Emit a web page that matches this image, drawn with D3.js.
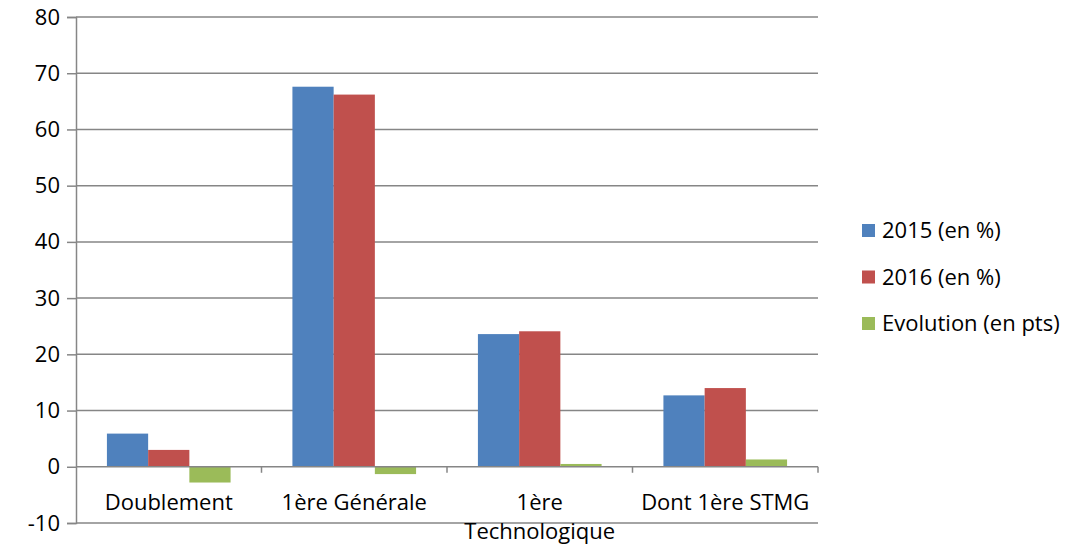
<!DOCTYPE html>
<html>
<head>
<meta charset="utf-8">
<script src="https://cdn.jsdelivr.net/npm/d3@7"></script>
<style>
  body { margin: 0; background: #fff; }
  text { font-family: "Open Sans", "Liberation Sans", sans-serif; fill: #000; }
</style>
</head>
<body>
<svg id="chart" width="1080" height="551"></svg>
<script>
const categories = ["Doublement", "1ère Générale", "1ère Technologique", "Dont 1ère STMG"];
const series = ["2015 (en %)", "2016 (en %)", "Evolution (en pts)"];
const v2015 = [5.9, 67.6, 23.6, 12.7];
const v2016 = [3.0, 66.2, 24.1, 14.0];
const evolution = [-2.8, -1.3, 0.5, 1.3];
const yTicks = [-10, 0, 10, 20, 30, 40, 50, 60, 70, 80];
const colors = ["#4F81BD", "#C0504D", "#9BBB59"];

const values = [v2015, v2016, evolution];
const data = categories.map((c, i) => ({ cat: c, vals: values.map(s => s[i]) }));

const margin = { top: 17, right: 262, bottom: 28, left: 76 };
const width = 1080, height = 551;
const fontSize = 22;
const svg = d3.select("#chart");

const x = d3.scaleBand()
  .domain(categories)
  .range([margin.left, width - margin.right]);

// excel style: 150% gap width -> 0.75 bar on each side
const xs = d3.scaleBand()
  .domain(series)
  .range([0, x.bandwidth()])
  .paddingOuter(0.75);

const y = d3.scaleLinear()
  .domain([-10, 80])
  .range([height - margin.bottom, margin.top]);

// y axis
svg.append("g")
  .attr("transform", `translate(${margin.left},0)`)
  .call(d3.axisLeft(y).tickValues(yTicks).tickSize(9).tickPadding(7).tickFormat(d => String(d)))
  .call(g => g.select(".domain").attr("stroke", "#868686").attr("stroke-width", 1.5))
  .call(g => g.selectAll(".tick line").attr("stroke", "#868686").attr("stroke-width", 1.5))
  .call(g => g.selectAll(".tick text").attr("font-size", fontSize).attr("font-family", null));

// gridlines
svg.append("g")
  .selectAll("line")
  .data(yTicks.filter(d => d !== 0))
  .join("line")
  .attr("x1", margin.left)
  .attr("x2", width - margin.right)
  .attr("y1", d => y(d))
  .attr("y2", d => y(d))
  .attr("stroke", "#868686")
  .attr("stroke-width", 1.5);

// bars
svg.append("g")
  .selectAll("g")
  .data(data)
  .join("g")
  .attr("transform", d => `translate(${x(d.cat)},0)`)
  .selectAll("rect")
  .data(d => d.vals.map((v, i) => ({ key: series[i], v, i })))
  .join("rect")
  .attr("x", d => xs(d.key))
  .attr("width", xs.bandwidth())
  .attr("y", d => y(Math.max(0, d.v)))
  .attr("height", d => Math.abs(y(d.v) - y(0)))
  .attr("fill", d => colors[d.i]);

// category axis at zero
const xAxis = svg.append("g").attr("transform", `translate(0,${y(0)})`);
xAxis.append("line")
  .attr("x1", margin.left)
  .attr("x2", width - margin.right)
  .attr("stroke", "#868686")
  .attr("stroke-width", 1.5);
xAxis.selectAll(".ctick")
  .data(categories.slice(1).map(c => x(c)).concat([x.range()[1]]))
  .join("line")
  .attr("x1", d => d).attr("x2", d => d)
  .attr("y1", 0).attr("y2", 6)
  .attr("stroke", "#868686")
  .attr("stroke-width", 1.5);

const labelLines = {
  "Doublement": ["Doublement"],
  "1ère Générale": ["1ère Générale"],
  "1ère Technologique": ["1ère", "Technologique"],
  "Dont 1ère STMG": ["Dont 1ère STMG"]
};
xAxis.selectAll(".clabel")
  .data(categories)
  .join("text")
  .attr("text-anchor", "middle")
  .attr("font-size", fontSize)
  .attr("x", d => x(d) + x.bandwidth() / 2)
  .selectAll("tspan")
  .data(d => labelLines[d])
  .join("tspan")
  .attr("x", function() { return this.parentNode.getAttribute("x"); })
  .attr("y", (d, i) => 43 + i * 29)
  .text(d => d);

// legend
const legend = svg.append("g").attr("transform", "translate(862,230)");
const li = legend.selectAll("g")
  .data(series)
  .join("g")
  .attr("transform", (d, i) => `translate(0,${i * 46.5})`);
li.append("rect")
  .attr("x", 0).attr("y", -6)
  .attr("width", 13).attr("height", 13)
  .attr("fill", (d, i) => colors[i]);
li.append("text")
  .attr("x", 20)
  .attr("y", 8)
  .attr("font-size", fontSize)
  .text(d => d);
</script>
</body>
</html>
